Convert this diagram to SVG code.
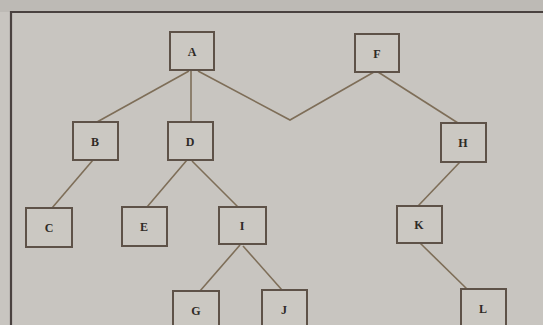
<svg xmlns="http://www.w3.org/2000/svg" width="543" height="325" viewBox="0 0 543 325">
<style>
.bg{fill:#c8c5c0}
.frame{fill:none;stroke:#4a4240;stroke-width:2.2}
.box rect{fill:#cbc8c2;stroke:#5e5248;stroke-width:2}
.box text{font-family:"Liberation Serif",serif;font-weight:bold;font-size:12px;fill:#2e2a26;text-anchor:middle}
#connectors line,#connectors polyline{stroke:#7e6e58;stroke-width:1.6;fill:none}
</style>
<rect class="bg" x="0" y="0" width="543" height="325"/>
<rect x="0" y="0" width="543" height="12" fill="#bdbab5"/>
<path class="frame" d="M11 325 V12 H543"/>
<g id="connectors">
<line x1="189" y1="71" x2="97" y2="122"/>
<line x1="191" y1="71" x2="191" y2="122"/>
<polyline points="198,71 290,120 374,72"/>
<line x1="378" y1="72" x2="458" y2="123"/>
<line x1="93" y1="160" x2="52" y2="208"/>
<line x1="187" y1="160" x2="147" y2="207"/>
<line x1="192" y1="161" x2="238" y2="207"/>
<line x1="460" y1="162" x2="418" y2="206"/>
<line x1="240" y1="245" x2="200" y2="291"/>
<line x1="243" y1="246" x2="282" y2="290"/>
<line x1="420" y1="243" x2="467" y2="289"/>
</g>
<g id="A" class="box"><rect x="170" y="32" width="44" height="38"/><text x="192" y="56">A</text></g>
<g id="F" class="box"><rect x="355" y="34" width="44" height="38"/><text x="377" y="58">F</text></g>
<g id="B" class="box"><rect x="73" y="122" width="45" height="38"/><text x="95" y="146">B</text></g>
<g id="D" class="box"><rect x="168" y="122" width="45" height="38"/><text x="190" y="146">D</text></g>
<g id="H" class="box"><rect x="441" y="123" width="45" height="39"/><text x="463" y="147">H</text></g>
<g id="C" class="box"><rect x="26" y="208" width="46" height="39"/><text x="49" y="232">C</text></g>
<g id="E" class="box"><rect x="122" y="207" width="45" height="39"/><text x="144" y="231">E</text></g>
<g id="I" class="box"><rect x="219" y="207" width="47" height="37"/><text x="242" y="230">I</text></g>
<g id="K" class="box"><rect x="397" y="206" width="45" height="37"/><text x="419" y="229">K</text></g>
<g id="G" class="box"><rect x="173" y="291" width="46" height="40"/><text x="196" y="315">G</text></g>
<g id="J" class="box"><rect x="262" y="290" width="45" height="40"/><text x="284" y="314">J</text></g>
<g id="L" class="box"><rect x="461" y="289" width="45" height="40"/><text x="483" y="313">L</text></g>
</svg>
